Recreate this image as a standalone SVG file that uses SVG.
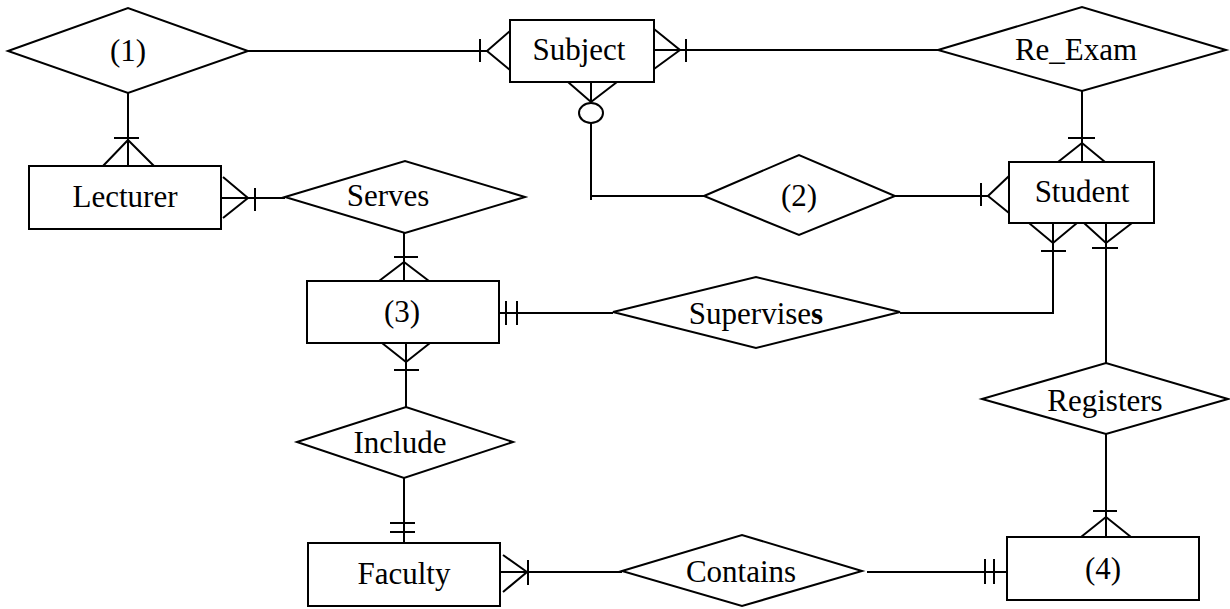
<svg xmlns="http://www.w3.org/2000/svg" width="1230" height="609" viewBox="0 0 1230 609">
<style>
.s{fill:#fff;stroke:#000;stroke-width:2}
.c{fill:none;stroke:#000;stroke-width:2}
text{font-family:"Liberation Serif","Times New Roman",serif;font-size:31px;fill:#000;text-anchor:middle}
</style>
<rect width="1230" height="609" fill="#fff"/>
<g id="connectors" class="c">
<!-- (1) - Subject -->
<path d="M248 51H487M480 39V62M510 31L487 51L510 70"/>
<!-- Subject - Re_Exam -->
<path d="M654 50H938M686 39V62M654 29L680 50L654 69"/>
<!-- Re_Exam - Student -->
<path d="M1082 91V162M1068 138H1095M1058 162L1082 143L1105 162"/>
<!-- (1) - Lecturer -->
<path d="M128 93V166M114 138H139M103 166L128 140L154 166"/>
<!-- Lecturer - Serves -->
<path d="M218 198H285M255 188V211M223 177L248 198L223 218"/>
<!-- Serves - (3) -->
<path d="M404 233V281M394 257H418M379 281L404 262L429 281"/>
<!-- (3) - Supervises -->
<path d="M499 313H613M506 301V325M517 301V325"/>
<!-- Supervises - Student -->
<path d="M900 313H1053V223M1041 251H1066M1029 223L1053 243L1077 223"/>
<!-- Student - Registers -->
<path d="M1106 221V363M1092 248H1118M1084 223L1106 243L1132 223"/>
<!-- Registers - (4) -->
<path d="M1106 434V537M1093 511H1117M1081 537L1106 517L1131 537"/>
<!-- (3) - Include -->
<path d="M406 343V407M394 370H419M382 343L406 362L430 343"/>
<!-- Include - Faculty -->
<path d="M404 478V543M390 523H415M390 532H415"/>
<!-- Faculty - Contains -->
<path d="M500 572H622M528 560V585M503 555L527 572L503 592"/>
<!-- Contains - (4) -->
<path d="M867 572H1007M985 559V584M994 559V584"/>
<!-- Subject - (2) -->
<path d="M591 82V102M568 82L591 102L617 82M591 123V200M591 196H704"/>
<ellipse cx="591" cy="113" rx="12" ry="10"/>
<!-- (2) - Student -->
<path d="M895 196H988M981 183V206M1009 176L988 196L1009 213"/>
</g>
<g id="rel1"><polygon class="s" points="8,51 128,8 248,51 128,93"/><text x="128" y="61">(1)</text></g>
<g id="subject"><rect class="s" x="510" y="20" width="144" height="62"/><text x="579" y="60">Subject</text></g>
<g id="reexam"><polygon class="s" points="938,50 1082,7 1226,50 1082,91"/><text x="1076" y="60">Re_Exam</text></g>
<g id="lecturer"><rect class="s" x="29" y="166" width="192" height="63"/><text x="125" y="207">Lecturer</text></g>
<g id="serves"><polygon class="s" points="285,197 405,161 525,197 405,233"/><text x="388" y="206">Serves</text></g>
<g id="rel2"><polygon class="s" points="704,196 799,155 895,196 799,235"/><text x="799" y="206">(2)</text></g>
<g id="student"><rect class="s" x="1009" y="162" width="145" height="61"/><text x="1082" y="202">Student</text></g>
<g id="ent3"><rect class="s" x="307" y="281" width="192" height="62"/><text x="402" y="322">(3)</text></g>
<g id="supervises"><polygon class="s" points="613,312 756,277 900,312 756,348"/><text x="756" y="324">Supervise<tspan font-weight="bold">s</tspan></text></g>
<g id="registers"><polygon class="s" points="982,399 1106,363 1228,399 1106,434"/><text x="1105" y="411">Registers</text></g>
<g id="include"><polygon class="s" points="297,442 406,407 513,442 404,478"/><text x="400" y="453">Include</text></g>
<g id="faculty"><rect class="s" x="308" y="543" width="192" height="63"/><text x="404" y="584">Faculty</text></g>
<g id="contains"><polygon class="s" points="622,571 742,535 862,571 742,606"/><text x="741" y="582">Contains</text></g>
<g id="ent4"><rect class="s" x="1007" y="537" width="192" height="63"/><text x="1103" y="579">(4)</text></g>
</svg>
